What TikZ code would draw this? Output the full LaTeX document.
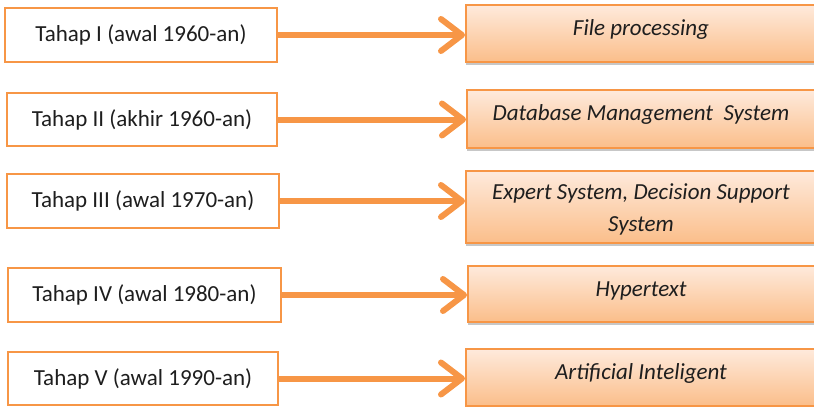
\documentclass[tikz,border=0pt]{standalone}
\usepackage{fontspec}
\setmainfont{Carlito}
\usetikzlibrary{arrows.meta,shadows}
\definecolor{accent}{HTML}{F79646}
\definecolor{paletop}{HTML}{FEEADC}
\definecolor{palebot}{HTML}{FBBE8A}
\definecolor{ink}{HTML}{1E1E1E}
\begin{document}
\begin{tikzpicture}[x=1pt,y=-1pt,
  lbox/.style={draw=accent, line width=2.5pt, fill=white, inner sep=0pt,
    text=ink, font=\fontsize{23}{32}\selectfont},
  rbox/.style={draw=accent, line width=2pt, inner sep=0pt,
    top color=paletop, bottom color=palebot,
    drop shadow={shadow xshift=0pt, shadow yshift=-3pt, opacity=0.22, fill=black}},
  rtext/.style={anchor=base, inner sep=0pt, text=ink, align=center,
    font=\fontsize{23}{32}\selectfont\itshape},
  arr/.style={draw=accent, line width=6pt,
    -{Straight Barb[length=21pt, width=32pt, round]}}]
\useasboundingbox (0,0) rectangle (814,407);

% stages on the left
\node[lbox, minimum width=272pt, minimum height=54pt] (l1) at (141,35) {Tahap I (awal 1960-an)};
\node[lbox, minimum width=270pt, minimum height=53pt] (l2) at (142,119.5) {Tahap II (akhir 1960-an)};
\node[lbox, minimum width=272pt, minimum height=54pt] (l3) at (143,201) {Tahap III (awal 1970-an)};
\node[lbox, minimum width=273pt, minimum height=54pt] (l4) at (144.5,295) {Tahap IV (awal 1980-an)};
\node[lbox, minimum width=270pt, minimum height=53pt] (l5) at (143,378.5) {Tahap V (awal 1990-an)};

% technologies on the right (boxes run past the right edge of the page)
\node[rbox, minimum width=374pt, minimum height=57pt] (r1) at (653,33.5) {};
\node[rbox, minimum width=373pt, minimum height=58pt] (r2) at (653.5,119) {};
\node[rbox, minimum width=374pt, minimum height=72pt] (r3) at (653,207) {};
\node[rbox, minimum width=372pt, minimum height=56pt] (r4) at (654,294) {};
\node[rbox, minimum width=374pt, minimum height=57pt] (r5) at (653,377.5) {};

\node[rtext] (t1) at ([yshift=-31pt]r1.north west -| 641,0) {File processing};
\node[rtext] (t2) at ([yshift=-31pt]r2.north west -| 641,0) {Database Management\ \ System};
\node[rtext] (t3) at ([yshift=-29pt]r3.north west -| 641,0) {Expert System, Decision Support};
\node[rtext] (t3b) at ([yshift=-61pt]r3.north west -| 641,0) {System};
\node[rtext] (t4) at ([yshift=-31pt]r4.north west -| 641,0) {Hypertext};
\node[rtext] (t5) at ([yshift=-31pt]r5.north west -| 641,0) {Artificial Inteligent};

% connectors
\draw[arr] (l1.east) -- (l1.east -| r1.west);
\draw[arr] (l2.east) -- (l2.east -| r2.west);
\draw[arr] (l3.east) -- (l3.east -| r3.west);
\draw[arr] (l4.east) -- (l4.east -| r4.west);
\draw[arr] (l5.east) -- (l5.east -| r5.west);
\end{tikzpicture}
\end{document}
